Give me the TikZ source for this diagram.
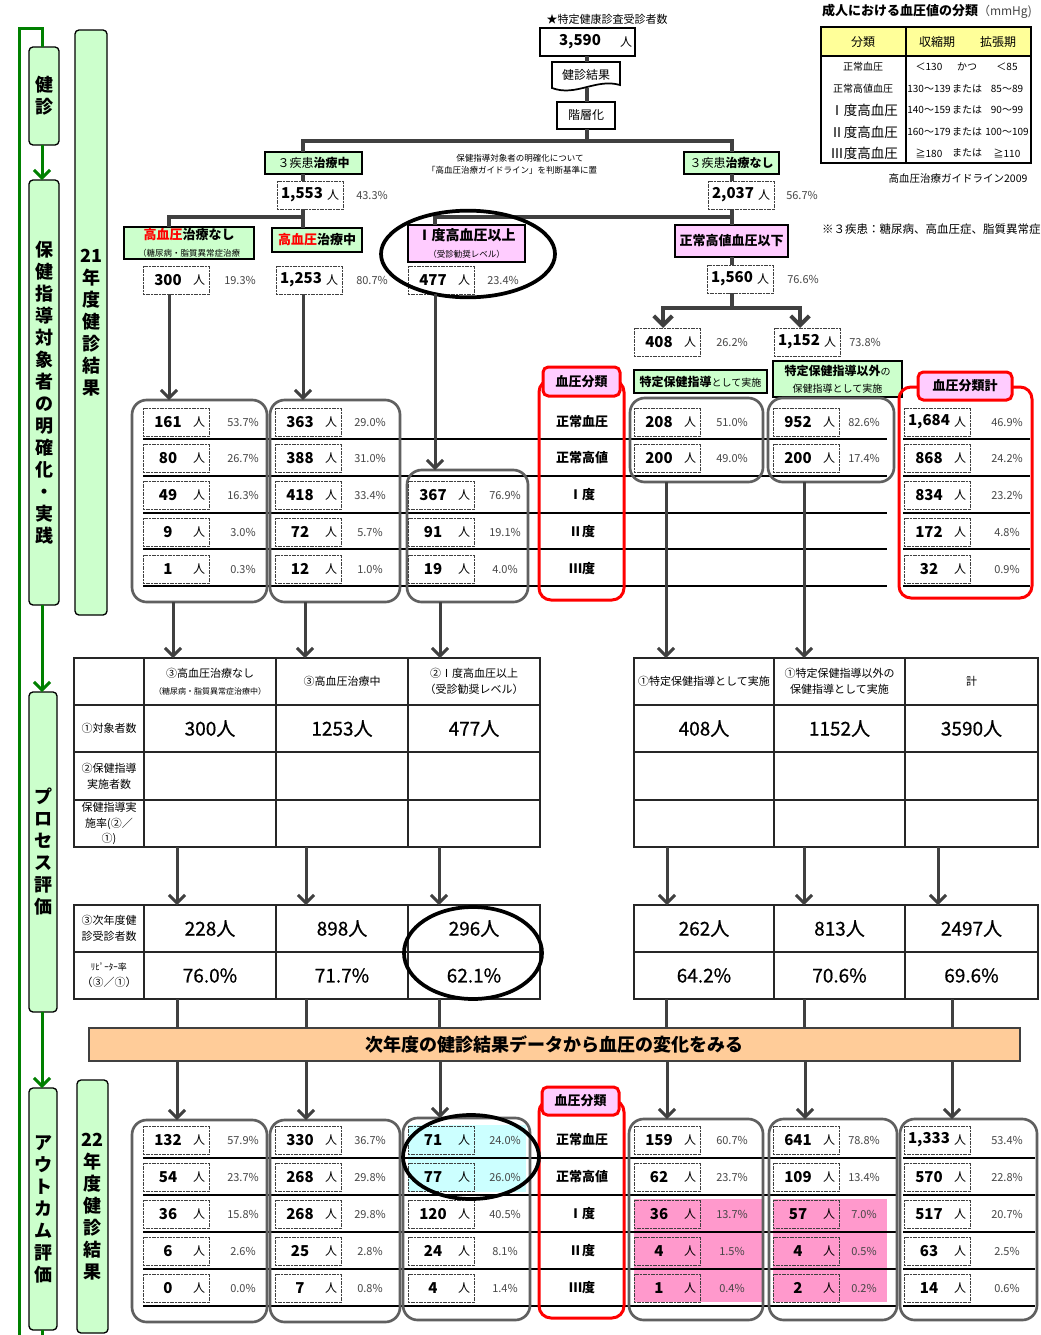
\documentclass[tikz,border=0pt]{standalone}
\usepackage{fontspec}
\setmainfont{Noto Sans CJK JP}
\newfontfamily\semib[FakeBold=0.6]{Noto Sans CJK JP}
\usetikzlibrary{arrows.meta,shapes.geometric}
\definecolor{lgreen}{RGB}{204,255,204}
\definecolor{lpink}{RGB}{255,204,255}
\definecolor{lyellow}{RGB}{255,255,153}
\definecolor{lorange}{RGB}{255,204,153}
\definecolor{lcyan}{RGB}{204,255,255}
\definecolor{hpink}{RGB}{255,153,204}
\definecolor{dgray}{RGB}{64,64,64}
\definecolor{ggray}{RGB}{96,96,96}
\definecolor{tgray}{RGB}{70,70,70}
\definecolor{dgreen}{RGB}{0,128,0}
\definecolor{bred}{RGB}{255,0,0}
\newcommand{\fpx}[1]{\fontsize{\fpeval{0.75*#1}pt}{\fpeval{0.9*#1}pt}\selectfont}
\newcommand{\fpl}[1]{\fontsize{\fpeval{0.75*#1}pt}{\fpeval{0.9*1.2*#1}pt}\selectfont}
\newcommand{\vfont}{\fontsize{13.5pt}{16.5pt}\selectfont\bfseries}
\newcommand{\bx}[7]{\node[align=center,inner sep=0pt,outer sep=0pt,#6,minimum width={(#4-#2)*0.75pt},minimum height={(#5-#3)*0.75pt}] (#1) at ({(#2+#4)/2},{(#3+#5)/2}) {#7};}
\newcommand{\nr}[6]{%
  \node[numbox] (#1) at ({#2+33},#3) {};
  \node[numtxt] (#1n) at ({#2+25},#3) {#4};
  \node[nintxt] (#1r) at ({#2+56},#3) {人};
  \node[pcttxt] (#1p) at (#6,#3) {#5};}
\begin{document}
\begin{tikzpicture}[x=0.75pt,y=-0.75pt,
  every node/.style={inner sep=0pt,outer sep=0pt},
  conn/.style={draw=dgray,line width=3pt},
  conn2/.style={draw=dgray,line width=2.25pt},
  arr/.style={draw=dgray,line width=2.25pt,-{Straight Barb[length=6pt,width=12pt]}},
  bigarr/.style={draw=dgray,line width=3pt,-{Straight Barb[length=7pt,width=14pt]}},
  garr/.style={draw=dgreen,line width=2.25pt,-{Straight Barb[length=6pt,width=12pt]}},
  gline/.style={draw=dgreen,line width=2.25pt},
  sidebox/.style={draw=black,line width=1pt,fill=lgreen,rounded corners=3pt},
  gbox/.style={draw=black,line width=1.5pt,fill=lgreen},
  pbox/.style={draw=black,line width=1.5pt,fill=lpink},
  wbox/.style={draw=black,line width=1.3pt,fill=white},
  numbox/.style={draw=black!75,line width=0.75pt,dash pattern=on 1.5pt off 0.5pt,minimum width=49.5pt,minimum height=21pt},
  numtxt/.style={font=\fpx{15}\bfseries},
  nintxt/.style={font=\fpx{12}},
  pcttxt/.style={font=\fpx{11},text=tgray},
  grp/.style={draw=ggray,line width=2pt,rounded corners=11pt},
  rgrp/.style={draw=bred,line width=2.25pt,rounded corners=9pt},
  rtab/.style={draw=bred,line width=2.25pt,fill=lpink,rounded corners=4pt,font=\fpx{13}\bfseries},
  tcell/.style={draw=black!85,line width=1.2pt},
  tval/.style={tcell,font=\fpx{19}\semib},
  rowline/.style={draw=black,line width=0.9pt},
  lab/.style={font=\fpx{13}\bfseries},
  ell/.style={draw=black,ellipse,line width=2.8pt}]
\useasboundingbox (0,0) rectangle (1041,1335);
\fill[white] (0,0) rectangle (1041,1335);

% ---------------- left column
\bx{y21}{75}{30}{107}{615}{sidebox,font=\vfont}{21\\年\\度\\健\\診\\結\\果}
\bx{y22}{77}{1080}{108}{1333}{sidebox,font=\vfont}{22\\年\\度\\健\\診\\結\\果}
\bx{kenshin}{29}{47}{59}{145}{sidebox,font=\vfont}{健\\診}
\bx{hoken}{29}{180}{59}{605}{sidebox,font=\vfont}{保\\健\\指\\導\\対\\象\\者\\の\\明\\確\\化\\・\\実\\践}
\bx{process}{29}{692}{57}{1012}{sidebox,font=\vfont}{プ\\ロ\\セ\\ス\\評\\価}
\bx{outcome}{29}{1088}{57}{1330}{sidebox,font=\vfont}{ア\\ウ\\ト\\カ\\ム\\評\\価}
\draw[gline] (19,1340) |- (42,28) -- (42,0 |- kenshin.north);
\draw[garr] (42,0 |- kenshin.south) -- (42,0 |- hoken.north);
\draw[garr] (42,0 |- hoken.south) -- (42,0 |- process.north);
\draw[garr] (42,0 |- process.south) -- (42,0 |- outcome.north);
\draw[gline] (42,0 |- outcome.south) -- (42,1340);

% ---------------- top flow
\node[font=\fpx{11}] (startxt) at (607,19) {★特定健康診査受診者数};
\bx{b3590}{540}{28}{635}{56}{wbox}{}
\node[numtxt] (t3590) at (580,42) {3,590};
\node[nintxt] (r3590) at (626,42) {人};
\draw[line width=1.3pt,fill=white] (552,62) -- (620,62) -- (620,85) .. controls (596,78) and (576,97) .. (552,88) -- cycle;
\bx{kekka}{552}{62}{620}{88}{font=\fpx{12}}{健診結果}
\bx{kaiso}{557}{102}{615}{129}{wbox,font=\fpx{12}}{階層化}
\draw[conn] (587,0 |- b3590.south) -- (587,0 |- kekka.north);
\draw[conn] (587,0 |- kekka.south) -- (587,0 |- kaiso.north);
\draw[conn] (587,0 |- kaiso.south) -- (587,141);

\bx{s3chu}{265}{152}{362}{174}{gbox,font=\fpx{12}}{３疾患\textbf{治療中}}
\bx{s3nashi}{684}{152}{779}{174}{gbox,font=\fpx{12}}{３疾患\textbf{治療なし}}
\draw[conn] (303,0 |- s3chu.north) |- (732,141) -- (732,0 |- s3nashi.north);

\node[font=\fpx{8.5}] (memo1) at (520,158) {保健指導対象者の明確化について};
\node[font=\fpx{8.5}] (memo2) at (512,170) {「高血圧治療ガイドライン」を判断基準に置};

\nr{n1553}{277}{195}{1,553}{43.3\%}{372}
\nr{n2037}{708}{195}{2,037}{56.7\%}{802}
\draw[conn] (303,0 |- s3chu.south) -- (303,0 |- n1553.north);
\draw[conn] (732,0 |- s3nashi.south) -- (732,0 |- n2037.north);

\bx{hnashi}{124}{227}{254}{259}{gbox}{{\fpx{13}\bfseries\textcolor{bred}{高血圧}治療なし}\\[1pt]{\fpx{8.5}（糖尿病・脂質異常症治療}}
\bx{hchu}{272}{228}{362}{252}{gbox,font=\fpx{13}\bfseries}{\textcolor{bred}{高血圧}治療中}
\bx{ido}{408}{225}{525}{262}{pbox}{{\fpx{14}\bfseries Ⅰ度高血圧以上}\\[1pt]{\fpx{8.5}（受診勧奨レベル）}}
\bx{seijo}{675}{225}{788}{257}{pbox,font=\fpx{13}\bfseries}{正常高値血圧以下}
\draw[conn] (303,0 |- n1553.south) -- (303,0 |- hchu.north);
\draw[conn] (169,0 |- hnashi.north) |- (303,217);
\draw[conn] (732,0 |- n2037.south) -- (732,0 |- seijo.north);
\draw[conn] (435,0 |- ido.north) |- (732,217);

\nr{n300}{143}{280}{300}{19.3\%}{240}
\nr{n1253}{276}{280}{1,253}{80.7\%}{372}
\nr{n477}{408}{280}{477}{23.4\%}{503}
\nr{n1560}{707}{279}{1,560}{76.6\%}{803}
\draw[conn] (732,0 |- seijo.south) -- (732,0 |- n1560.north);
\nr{n408}{634}{342}{408}{26.2\%}{732}
\nr{n1152}{774}{342}{1,152}{73.8\%}{865}
\draw[conn] (732,0 |- n1560.south) -- (732,308);
\draw[bigarr] (732,308) -| (663,0 |- n408.north);
\draw[bigarr] (732,308) -| (800,0 |- n1152.north);

\node[ell,minimum width=130.5pt,minimum height=65pt] (ellA) at (468,254) {};

\bx{tok1}{634}{370}{767}{393}{gbox}{{\fpx{12}\bfseries 特定保健指導}{\fpx{10}として実施}}
\bx{tok2}{773}{361}{902}{397}{gbox}{{\fpx{12}\bfseries 特定保健指導以外}{\fpx{10}の}\\[1pt]{\fpx{10}保健指導として実施}}

\node[anchor=west,font=\fpx{11.5}] (note3) at (822,229) {※３疾患：糖尿病、高血圧症、脂質異常症};

% ---------------- blood pressure table
\node[anchor=west] (bptitle) at (822,11) {{\fpx{13}\bfseries 成人における血圧値の分類}{\fpx{12}\color{tgray}（mmHg)}};
\fill[lyellow] (821,27) rectangle (1031,56);
\draw[line width=1.2pt] (821,27) rectangle (1031,163);
\draw[line width=1.2pt] (821,56) -- (1031,56);
\draw[line width=1.2pt] (906,27) -- (906,163);
\node[font=\fpx{12}] (bh1) at (863,42) {分類};
\node[font=\fpx{12}] (bh2) at (937,42) {収縮期};
\node[font=\fpx{12}] (bh3) at (998,42) {拡張期};
\node[font=\fpx{10}] (bl1) at (863,67) {正常血圧};
\node[font=\fpx{10}] (bl2) at (863,89) {正常高値血圧};
\node[font=\fpx{13.5}] (bl3) at (864,110) {Ⅰ度高血圧};
\node[font=\fpx{13.5}] (bl4) at (864,132) {Ⅱ度高血圧};
\node[font=\fpx{13.5}] (bl5) at (864,153) {Ⅲ度高血圧};
\foreach \yy/\a/\b/\c/\nm in {67/＜130/かつ/＜85/1, 89/130～139/または/85～89/2, 110/140～159/または/90～99/3, 132/160～179/または/100～109/4, 153/≧180/または/≧110/5}{
  \node[font=\fpx{10}] (bva\nm) at (929,\yy) {\a};
  \node[font=\fpx{10}] (bvb\nm) at (967,\yy) {\b};
  \node[font=\fpx{10}] (bvc\nm) at (1007,\yy) {\c};
}
\node[font=\fpx{10.5}] (bpsrc) at (958,179) {高血圧治療ガイドライン2009};

% ---------------- 21 year groups
\foreach \yy in {439,476,513,549,586}{
  \draw[rowline] (143,\yy) -- (887,\yy);
  \draw[rowline] (903,\yy) -- (1030,\yy);
}
\bx{g1}{132}{400}{267}{602}{grp}{}
\bx{g2}{270}{400}{400}{602}{grp}{}
\bx{g3}{407}{470}{528}{602}{grp}{}
\bx{g4}{630}{398}{763}{482}{grp}{}
\bx{g5}{768}{398}{894}{482}{grp}{}
\bx{rg1}{539}{380}{624}{600}{rgrp}{}
\bx{rt1}{543}{367}{620}{396}{rtab}{血圧分類}
\bx{rg2}{899}{387}{1032}{598}{rgrp}{}
\bx{rt2}{918}{372}{1012}{400}{rtab}{血圧分類計}
\node[lab] (la1) at (582,422) {正常血圧};
\node[lab] (la2) at (582,458) {正常高値};
\node[lab] (la3) at (582,495) {Ⅰ度};
\node[lab] (la4) at (582,532) {Ⅱ度};
\node[lab] (la5) at (582,569) {Ⅲ度};

\nr{a11}{143}{422}{161}{53.7\%}{243}
\nr{a12}{143}{458}{80}{26.7\%}{243}
\nr{a13}{143}{495}{49}{16.3\%}{243}
\nr{a14}{143}{532}{9}{3.0\%}{243}
\nr{a15}{143}{569}{1}{0.3\%}{243}
\nr{a21}{275}{422}{363}{29.0\%}{370}
\nr{a22}{275}{458}{388}{31.0\%}{370}
\nr{a23}{275}{495}{418}{33.4\%}{370}
\nr{a24}{275}{532}{72}{5.7\%}{370}
\nr{a25}{275}{569}{12}{1.0\%}{370}
\nr{a33}{408}{495}{367}{76.9\%}{505}
\nr{a34}{408}{532}{91}{19.1\%}{505}
\nr{a35}{408}{569}{19}{4.0\%}{505}
\nr{a41}{634}{422}{208}{51.0\%}{732}
\nr{a42}{634}{458}{200}{49.0\%}{732}
\nr{a51}{773}{422}{952}{82.6\%}{864}
\nr{a52}{773}{458}{200}{17.4\%}{864}
\nr{a61}{904}{422}{1,684}{46.9\%}{1007}
\nr{a62}{904}{458}{868}{24.2\%}{1007}
\nr{a63}{904}{495}{834}{23.2\%}{1007}
\nr{a64}{904}{532}{172}{4.8\%}{1007}
\nr{a65}{904}{569}{32}{0.9\%}{1007}

\draw[arr] (169,0 |- n300.south) -- (169,0 |- g1.north);
\draw[arr] (303,0 |- n1253.south) -- (303,0 |- g2.north);
\draw[arr] (435,0 |- n477.south) -- (435,0 |- g3.north);

% ---------------- process tables
\bx{L00}{74}{658}{144}{705}{tcell}{}
\bx{L01}{144}{658}{276}{705}{tcell}{{\fpx{11}③高血圧治療なし}\\[1pt]{\fpx{8}（糖尿病・脂質異常症治療中）}}
\bx{L02}{276}{658}{408}{705}{tcell,font=\fpx{11}}{③高血圧治療中}
\bx{L03}{408}{658}{540}{705}{tcell,font=\fpl{11}}{②Ⅰ度高血圧以上\\（受診勧奨レベル）}
\bx{L10}{74}{705}{144}{752}{tcell,font=\fpx{11}}{①対象者数}
\bx{L11}{144}{705}{276}{752}{tval}{300人}
\bx{L12}{276}{705}{408}{752}{tval}{1253人}
\bx{L13}{408}{705}{540}{752}{tval}{477人}
\bx{L20}{74}{752}{144}{800}{tcell,font=\fpl{11}}{②保健指導\\実施者数}
\bx{L21}{144}{752}{276}{800}{tcell}{}
\bx{L22}{276}{752}{408}{800}{tcell}{}
\bx{L23}{408}{752}{540}{800}{tcell}{}
\bx{L30}{74}{800}{144}{847}{tcell,font=\fpl{11}}{保健指導実\\施率(②／\\①)}
\bx{L31}{144}{800}{276}{847}{tcell}{}
\bx{L32}{276}{800}{408}{847}{tcell}{}
\bx{L33}{408}{800}{540}{847}{tcell}{}
\bx{M00}{74}{905}{144}{952}{tcell,font=\fpl{11}}{③次年度健\\診受診者数}
\bx{M01}{144}{905}{276}{952}{tval}{228人}
\bx{M02}{276}{905}{408}{952}{tval}{898人}
\bx{M03}{408}{905}{540}{952}{tval}{296人}
\bx{M10}{74}{952}{144}{999}{tcell,font=\fpl{11}}{{\fpx{9}ﾘﾋﾟｰﾀｰ率}\\（③／①）}
\bx{M11}{144}{952}{276}{999}{tval}{76.0\%}
\bx{M12}{276}{952}{408}{999}{tval}{71.7\%}
\bx{M13}{408}{952}{540}{999}{tval}{62.1\%}

\bx{R00}{634}{658}{774}{705}{tcell,font=\fpx{11}}{①特定保健指導として実施}
\bx{R01}{774}{658}{905}{705}{tcell,font=\fpl{11}}{①特定保健指導以外の\\保健指導として実施}
\bx{R02}{905}{658}{1038}{705}{tcell,font=\fpx{11}}{計}
\bx{R10}{634}{705}{774}{752}{tval}{408人}
\bx{R11}{774}{705}{905}{752}{tval}{1152人}
\bx{R12}{905}{705}{1038}{752}{tval}{3590人}
\bx{R20}{634}{752}{774}{800}{tcell}{}
\bx{R21}{774}{752}{905}{800}{tcell}{}
\bx{R22}{905}{752}{1038}{800}{tcell}{}
\bx{R30}{634}{800}{774}{847}{tcell}{}
\bx{R31}{774}{800}{905}{847}{tcell}{}
\bx{R32}{905}{800}{1038}{847}{tcell}{}
\bx{N00}{634}{905}{774}{952}{tval}{262人}
\bx{N01}{774}{905}{905}{952}{tval}{813人}
\bx{N02}{905}{905}{1038}{952}{tval}{2497人}
\bx{N10}{634}{952}{774}{999}{tval}{64.2\%}
\bx{N11}{774}{952}{905}{999}{tval}{70.6\%}
\bx{N12}{905}{952}{1038}{999}{tval}{69.6\%}

\node[ell,minimum width=103.5pt,minimum height=69pt] (ellB) at (473,953) {};

\draw[arr] (173,0 |- g1.south) -- (173,0 |- L01.north);
\draw[arr] (305,0 |- g2.south) -- (305,0 |- L02.north);
\draw[arr] (440,0 |- g3.south) -- (440,0 |- L03.north);
\draw[arr] (666,0 |- g4.south) -- (666,0 |- R00.north);
\draw[arr] (804,0 |- g5.south) -- (804,0 |- R01.north);

\draw[arr] (177,0 |- L31.south) -- (177,0 |- M01.north);
\draw[arr] (306,0 |- L32.south) -- (306,0 |- M02.north);
\draw[arr] (439,0 |- L33.south) -- (439,0 |- M03.north);
\draw[arr] (667,0 |- R30.south) -- (667,0 |- N00.north);
\draw[arr] (804,0 |- R31.south) -- (804,0 |- N01.north);
\draw[arr] (938,0 |- R32.south) -- (938,0 |- N02.north);

% ---------------- orange bar
\bx{obar}{89}{1028}{1020}{1061}{draw=black!75,line width=1.5pt,fill=lorange,font=\fpx{18}\bfseries}{次年度の健診結果データから血圧の変化をみる}
\draw[conn2] (177,0 |- M11.south) -- (177,0 |- obar.north);
\draw[conn2] (306,0 |- M12.south) -- (306,0 |- obar.north);
\draw[conn2] (439,0 |- M13.south) -- (439,0 |- obar.north);
\draw[conn2] (666,0 |- N10.south) -- (666,0 |- obar.north);
\draw[conn2] (804,0 |- N11.south) -- (804,0 |- obar.north);
\draw[conn2] (952,0 |- N12.south) -- (952,0 |- obar.north);

% ---------------- 22 year groups
\fill[hpink] (634,1199) rectangle (763,1302);
\fill[hpink] (773,1199) rectangle (887,1302);
\fill[lcyan] (408,1125) rectangle (526,1192);
\foreach \yy in {1158,1195,1232,1269,1306}{
  \draw[rowline] (143,\yy) -- (897,\yy);
  \draw[rowline] (903,\yy) -- (1035,\yy);
}
\bx{bg1}{132}{1120}{267}{1322}{grp}{}
\bx{bg2}{270}{1120}{400}{1322}{grp}{}
\bx{bg3}{403}{1118}{530}{1320}{grp}{}
\bx{bg4}{629}{1119}{763}{1320}{grp}{}
\bx{bg5}{769}{1119}{897}{1320}{grp}{}
\bx{bg6}{900}{1119}{1037}{1320}{grp}{}
\bx{brg}{539}{1100}{624}{1318}{rgrp}{}
\bx{brt}{542}{1087}{619}{1115}{rtab}{血圧分類}
\node[lab] (lb1) at (582,1140) {正常血圧};
\node[lab] (lb2) at (582,1177) {正常高値};
\node[lab] (lb3) at (582,1214) {Ⅰ度};
\node[lab] (lb4) at (582,1251) {Ⅱ度};
\node[lab] (lb5) at (582,1288) {Ⅲ度};

\nr{b11}{143}{1140}{132}{57.9\%}{243}
\nr{b12}{143}{1177}{54}{23.7\%}{243}
\nr{b13}{143}{1214}{36}{15.8\%}{243}
\nr{b14}{143}{1251}{6}{2.6\%}{243}
\nr{b15}{143}{1288}{0}{0.0\%}{243}
\nr{b21}{275}{1140}{330}{36.7\%}{370}
\nr{b22}{275}{1177}{268}{29.8\%}{370}
\nr{b23}{275}{1214}{268}{29.8\%}{370}
\nr{b24}{275}{1251}{25}{2.8\%}{370}
\nr{b25}{275}{1288}{7}{0.8\%}{370}
\nr{b31}{408}{1140}{71}{24.0\%}{505}
\nr{b32}{408}{1177}{77}{26.0\%}{505}
\nr{b33}{408}{1214}{120}{40.5\%}{505}
\nr{b34}{408}{1251}{24}{8.1\%}{505}
\nr{b35}{408}{1288}{4}{1.4\%}{505}
\nr{b41}{634}{1140}{159}{60.7\%}{732}
\nr{b42}{634}{1177}{62}{23.7\%}{732}
\nr{b43}{634}{1214}{36}{13.7\%}{732}
\nr{b44}{634}{1251}{4}{1.5\%}{732}
\nr{b45}{634}{1288}{1}{0.4\%}{732}
\nr{b51}{773}{1140}{641}{78.8\%}{864}
\nr{b52}{773}{1177}{109}{13.4\%}{864}
\nr{b53}{773}{1214}{57}{7.0\%}{864}
\nr{b54}{773}{1251}{4}{0.5\%}{864}
\nr{b55}{773}{1288}{2}{0.2\%}{864}
\nr{b61}{904}{1140}{1,333}{53.4\%}{1007}
\nr{b62}{904}{1177}{570}{22.8\%}{1007}
\nr{b63}{904}{1214}{517}{20.7\%}{1007}
\nr{b64}{904}{1251}{63}{2.5\%}{1007}
\nr{b65}{904}{1288}{14}{0.6\%}{1007}

\node[ell,minimum width=102pt,minimum height=63pt] (ellC) at (471,1157) {};

\draw[arr] (177,0 |- obar.south) -- (177,0 |- bg1.north);
\draw[arr] (306,0 |- obar.south) -- (306,0 |- bg2.north);
\draw[arr] (440,0 |- obar.south) -- (440,0 |- bg3.north);
\draw[arr] (667,0 |- obar.south) -- (667,0 |- bg4.north);
\draw[arr] (805,0 |- obar.south) -- (805,0 |- bg5.north);
\draw[arr] (952,0 |- obar.south) -- (952,0 |- bg6.north);
\end{tikzpicture}
\end{document}
